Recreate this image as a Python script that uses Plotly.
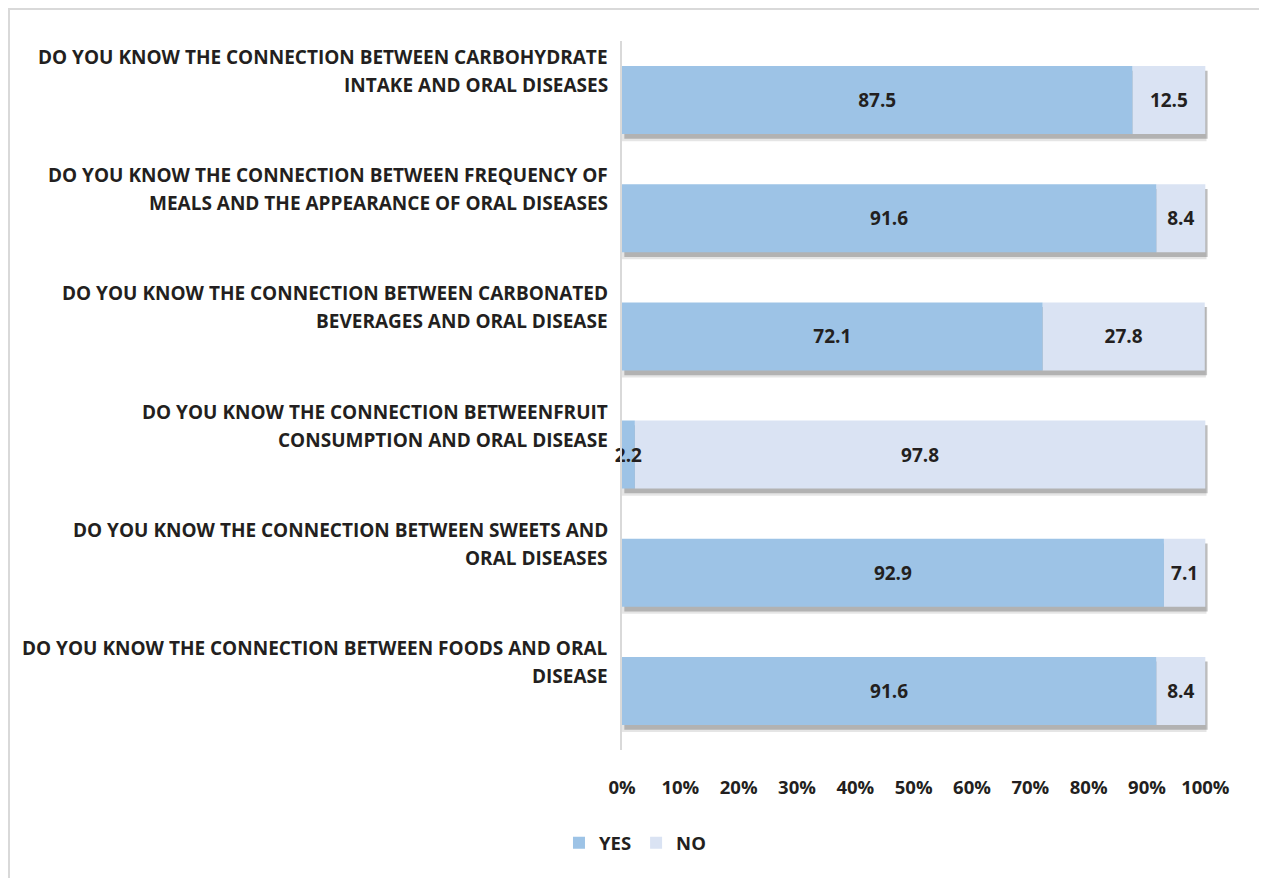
import plotly.graph_objects as go

questions = [
    "DO YOU KNOW THE CONNECTION BETWEEN CARBOHYDRATE<br>INTAKE AND ORAL DISEASES",
    "DO YOU KNOW THE CONNECTION BETWEEN FREQUENCY OF<br>MEALS AND THE APPEARANCE OF ORAL DISEASES",
    "DO YOU KNOW THE CONNECTION BETWEEN CARBONATED<br>BEVERAGES AND ORAL DISEASE",
    "DO YOU KNOW THE CONNECTION BETWEENFRUIT<br>CONSUMPTION AND ORAL DISEASE",
    "DO YOU KNOW THE CONNECTION BETWEEN SWEETS AND<br>ORAL DISEASES",
    "DO YOU KNOW THE CONNECTION BETWEEN FOODS AND ORAL<br>DISEASE",
]
yes = [87.5, 91.6, 72.1, 2.2, 92.9, 91.6]
no = [12.5, 8.4, 27.8, 97.8, 7.1, 8.4]
tick_vals = [0, 10, 20, 30, 40, 50, 60, 70, 80, 90, 100]
tick_text = ["0%", "10%", "20%", "30%", "40%", "50%", "60%", "70%", "80%", "90%", "100%"]

YES_COLOR = "#9DC3E6"
NO_COLOR = "#DAE3F3"
TXT = "#231f20"
FONT = "Open Sans"
FS = 19

ids = list(range(len(questions)))
totals = [a + b for a, b in zip(yes, no)]
W = 0.576

fig = go.Figure()
# soft drop shadow (two layers)
fig.add_trace(go.Bar(y=ids, x=[t + 0.4 for t in totals], base=-0.2, orientation="h", width=W + 0.02,
                     offset=-W / 2 + 0.04, marker=dict(color="rgba(0,0,0,0.10)", line=dict(width=0)),
                     showlegend=False, hoverinfo="skip"))
fig.add_trace(go.Bar(y=ids, x=totals, base=0.4, orientation="h", width=W,
                     offset=-W / 2 + 0.04, marker=dict(color="rgba(0,0,0,0.22)", line=dict(width=0)),
                     showlegend=False, hoverinfo="skip"))
# NO drawn first so the YES labels sit on top of it
fig.add_trace(go.Bar(y=ids, x=no, base=yes, orientation="h", name="<b>NO</b>", width=W,
                     offset=-W / 2, marker=dict(color=NO_COLOR, line=dict(width=0)),
                     text=[f"<b>{v}</b>" for v in no], textposition="inside", insidetextanchor="middle",
                     textangle=0, textfont=dict(family=FONT, size=19, color=TXT), constraintext="none",
                     cliponaxis=False, legendrank=2))
fig.add_trace(go.Bar(y=ids, x=yes, base=0, orientation="h", name="<b>YES</b>", width=W,
                     offset=-W / 2, marker=dict(color=YES_COLOR, line=dict(width=0)),
                     text=[f"<b>{v}</b>" for v in yes], textposition="inside", insidetextanchor="middle",
                     textangle=0, textfont=dict(family=FONT, size=19, color=TXT), constraintext="none",
                     cliponaxis=False, legendrank=1))

annotations = []
for i, q in enumerate(questions):
    lines = q.split("<br>")
    shifts = [43, 15]
    for ln, sh in zip(lines, shifts):
        annotations.append(dict(text=f"<b>{ln}</b>", xref="paper", x=0, xanchor="right", xshift=-12,
                                yref="y", y=i, yanchor="middle", yshift=sh, showarrow=False,
                                font=dict(family=FONT, size=FS, color=TXT)))

fig.update_layout(
    width=1259, height=870,
    barmode="overlay",
    paper_bgcolor="white", plot_bgcolor="white",
    margin=dict(l=614, r=57, t=33, b=128),
    uniformtext=dict(minsize=19, mode="show"),
    xaxis=dict(range=[0, 100.8], tickvals=tick_vals, ticktext=[f"<b>{t}</b>" for t in tick_text],
               showgrid=False, zeroline=False, showline=False, ticks="",
               tickfont=dict(family=FONT, size=18.5, color=TXT), ticklabelstandoff=24),
    yaxis=dict(range=[len(questions) - 0.5, -0.5], showticklabels=False, showgrid=False,
               zeroline=False, showline=True, linecolor="#d9d9d9", linewidth=2, ticks=""),
    legend=dict(orientation="h", x=0.498, xref="container", xanchor="center", y=0.04, yref="container",
                yanchor="middle", font=dict(family=FONT, size=18.5, color=TXT),
                traceorder="normal"),
    annotations=annotations,
    shapes=[dict(type="rect", xref="paper", yref="paper", x0=-1.0425, x1=1.0867, y0=-0.2, y1=1.0451,
                 line=dict(color="#d9d9d9", width=2), layer="below")],
)

fig.write_html("out.html")
